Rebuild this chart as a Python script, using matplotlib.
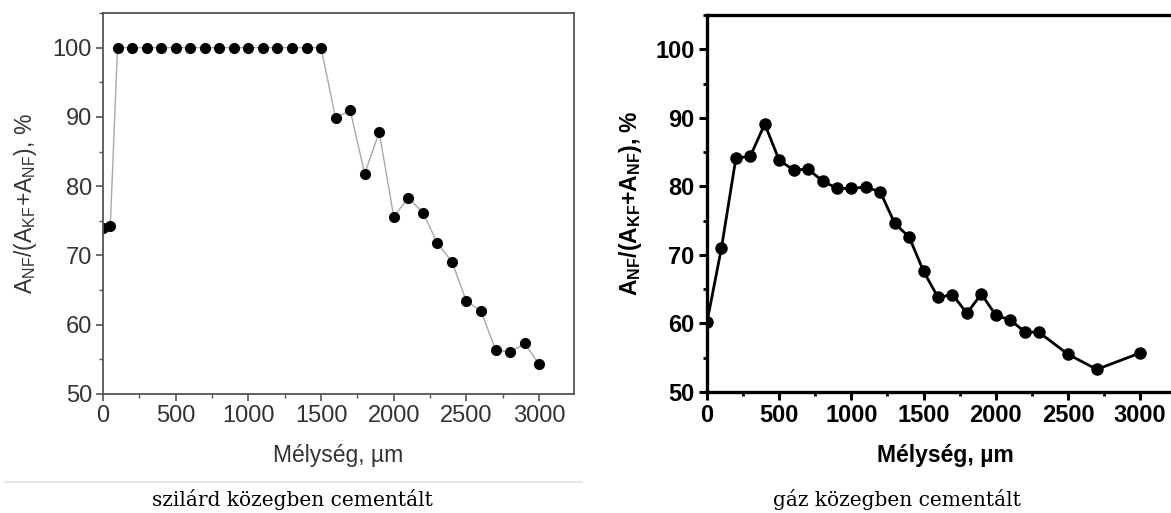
import matplotlib
matplotlib.use("Agg")
import matplotlib.pyplot as plt
from matplotlib.ticker import MultipleLocator
from matplotlib.lines import Line2D

plt.rcParams.update({
    "font.family": ["Liberation Sans", "DejaVu Sans"],
    "mathtext.fontset": "custom",
    "mathtext.rm": "Liberation Sans",
    "mathtext.bf": "Liberation Sans:bold",
})

# solid-medium carburizing
depth_solid = [0, 50, 100, 200, 300, 400, 500, 600, 700, 800, 900, 1000, 1100, 1200,
               1300, 1400, 1500, 1600, 1700, 1800, 1900, 2000, 2100, 2200, 2300,
               2400, 2500, 2600, 2700, 2800, 2900, 3000]
ratio_solid = [73.9, 74.2, 100, 100, 100, 100, 100, 100, 100, 100, 100, 100, 100, 100,
               100, 100, 100, 89.8, 91.0, 81.8, 87.8, 75.6, 78.3, 76.2, 71.8,
               69.1, 63.4, 62.0, 56.4, 56.0, 57.3, 54.3]

# gas carburizing
depth_gas = [0, 100, 200, 300, 400, 500, 600, 700, 800, 900, 1000, 1100, 1200, 1300,
             1400, 1500, 1600, 1700, 1800, 1900, 2000, 2100, 2200, 2300, 2500, 2700, 3000]
ratio_gas = [60.2, 71.0, 84.1, 84.4, 89.1, 83.8, 82.4, 82.5, 80.8, 79.7, 79.7, 79.9,
             79.2, 74.6, 72.6, 67.6, 63.8, 64.2, 61.5, 64.3, 61.2, 60.5, 58.8, 58.7,
             55.5, 53.3, 55.7]

captions = ["szilárd közegben cementált", "gáz közegben cementált"]
xlabel = "Mélység, µm"

W, H = 1171, 513
fig = plt.figure(figsize=(W / 100, H / 100), dpi=100)

# ---- left panel (soft grey look) ----
ax1 = fig.add_axes([103 / W, 1 - 394 / H, 471 / W, 381 / H])
ax1.plot(depth_solid, ratio_solid, color="#a8a8a8", lw=1.0, zorder=1)
ax1.plot(depth_solid, ratio_solid, "o", color="black", ms=7, zorder=2)
ax1.set_xlim(0, 3240)
ax1.set_ylim(50, 105)
ax1.set_xticks(range(0, 3001, 500))
ax1.set_yticks(range(50, 101, 10))
ax1.xaxis.set_minor_locator(MultipleLocator(250))
ax1.yaxis.set_minor_locator(MultipleLocator(5))
for s in ax1.spines.values():
    s.set_color("#555555")
    s.set_linewidth(1.3)
ax1.tick_params(which="both", colors="#555555", labelcolor="#333333", labelsize=17,
                direction="out")
ax1.tick_params(which="major", length=5, width=1.2, pad=3)
ax1.tick_params(which="minor", length=3, width=1.0)
ax1.set_xlabel(xlabel, fontsize=16.5, color="#333333", labelpad=12)
ax1.set_ylabel(r"$\mathregular{A_{NF}/(A_{KF}{+}A_{NF})}$, %", fontsize=16.5,
               color="#333333", labelpad=10)

# ---- right panel (bold black look) ----
ax2 = fig.add_axes([707 / W, 1 - 392 / H, 476.5 / W, 377 / H])
ax2.plot(depth_gas, ratio_gas, "-o", color="black", lw=2.0, ms=8)
ax2.set_xlim(0, 3300)
ax2.set_ylim(50, 105)
ax2.set_xticks(range(0, 3001, 500))
ax2.set_yticks(range(50, 101, 10))
ax2.xaxis.set_minor_locator(MultipleLocator(250))
ax2.yaxis.set_minor_locator(MultipleLocator(5))
for s in ax2.spines.values():
    s.set_color("black")
    s.set_linewidth(2.4)
ax2.tick_params(which="both", colors="black", labelsize=17, direction="out")
ax2.tick_params(which="major", length=6, width=2.2, pad=3)
ax2.tick_params(which="minor", length=3, width=2.0)
for lab in ax2.get_xticklabels() + ax2.get_yticklabels():
    lab.set_fontweight("bold")
ax2.set_xlabel(xlabel, fontsize=16.5, fontweight="bold", labelpad=12)
ax2.set_ylabel(r"$\mathbf{A_{NF}/(A_{KF}{+}A_{NF})}$, %", fontsize=16.5,
               fontweight="bold", labelpad=8)

# frame edge of the left figure
fig.add_artist(Line2D([5 / W, 582 / W], [1 - 482 / H, 1 - 482 / H],
                      transform=fig.transFigure, color="#e2e2e2", lw=1.2))

fig.text(292 / W, 1 - 500 / H, captions[0], ha="center", va="center",
         fontsize=14.5, family="DejaVu Serif")
fig.text(897 / W, 1 - 500 / H, captions[1], ha="center", va="center",
         fontsize=14.5, family="DejaVu Serif")

fig.savefig("out.png", dpi=100)
